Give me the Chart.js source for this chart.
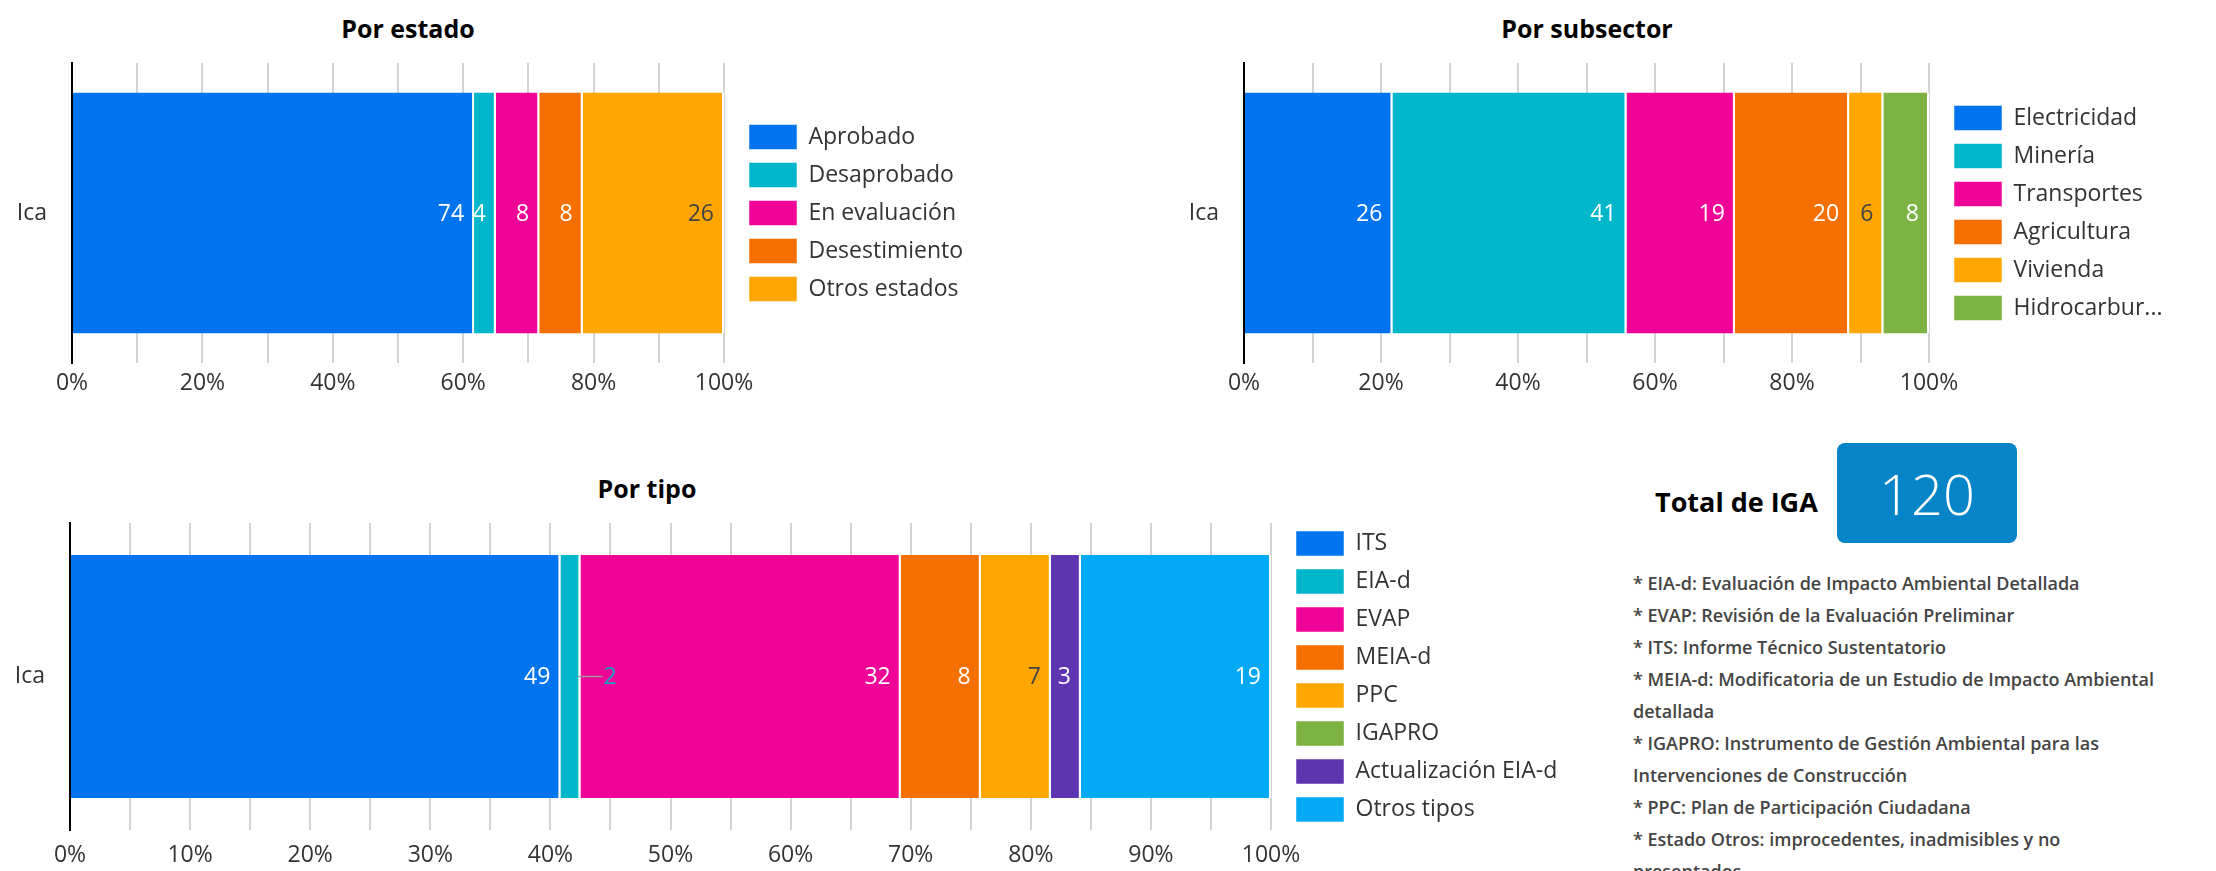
<!DOCTYPE html>
<html lang="es">
<head>
<meta charset="utf-8">
<title>IGA - Ica</title>
<script src="https://cdn.jsdelivr.net/npm/chart.js@4.4.1/dist/chart.umd.min.js"></script>
<style>
  html, body { margin: 0; padding: 0; background: #fff; width: 2216px; height: 871px; overflow: hidden; font-family: 'Open Sans', sans-serif; }
  canvas { position: absolute; }
  .title { position: absolute; width: 400px; text-align: center; font-weight: 700; font-size: 25px; line-height: 30px; color: #000; }
  .total { position: absolute; left: 1655px; top: 484px; font-size: 27px; font-weight: 700; line-height: 36px; color: #000; }
  .box { position: absolute; left: 1837px; top: 443px; width: 180px; height: 100px; border-radius: 8px; background: #0585c7;
         color: #fff; font-size: 56px; font-weight: 300; line-height: 100px; text-align: center; }
  .notes { position: absolute; left: 1633px; top: 567px; font-size: 18px; line-height: 32px; font-weight: 600; color: #444; white-space: nowrap; }
</style>
</head>
<body>
<div class="title" style="left:208px; top:13px">Por estado</div>
<div class="title" style="left:1387px; top:13px">Por subsector</div>
<div class="title" style="left:447px; top:473px">Por tipo</div>

<canvas id="estado" width="996" height="355" style="left:0; top:53px; width:996px; height:355px"></canvas>
<canvas id="subsector" width="1029" height="355" style="left:1172px; top:53px; width:1029px; height:355px"></canvas>
<canvas id="tipo" width="1583" height="362" style="left:0; top:513px; width:1583px; height:362px"></canvas>

<div class="total">Total de IGA</div>
<div class="box" id="totalBox"></div>
<div class="notes">
  * EIA-d: Evaluación de Impacto Ambiental Detallada<br>
  * EVAP: Revisión de la Evaluación Preliminar<br>
  * ITS: Informe Técnico Sustentatorio<br>
  * MEIA-d: Modificatoria de un Estudio de Impacto Ambiental<br>
  detallada<br>
  * IGAPRO: Instrumento de Gestión Ambiental para las<br>
  Intervenciones de Construcción<br>
  * PPC: Plan de Participación Ciudadana<br>
  * Estado Otros: improcedentes, inadmisibles y no<br>
  presentados
</div>

<script>
const region = ['Ica'];

const estadoLabels = ['Aprobado', 'Desaprobado', 'En evaluación', 'Desestimiento', 'Otros estados'];
const estadoValues = [74, 4, 8, 8, 26];

const subsectorLabels = ['Electricidad', 'Minería', 'Transportes', 'Agricultura', 'Vivienda', 'Hidrocarburos'];
const subsectorValues = [26, 41, 19, 20, 6, 8];

const tipoLabels = ['ITS', 'EIA-d', 'EVAP', 'MEIA-d', 'PPC', 'IGAPRO', 'Actualización EIA-d', 'Otros tipos'];
const tipoValues = [49, 2, 32, 8, 7, 0, 3, 19];

const palette = ['#0074ee', '#00b6cb', '#ef0497', '#f57000', '#ffa600', '#7cb342', '#5e35b1', '#03a9f4'];
const darkText = '#444';

Chart.defaults.font.family = "'Open Sans', sans-serif";
Chart.defaults.font.size = 23;
Chart.defaults.color = '#333';

// legend width fixed so the plot area lines up whatever the text widths are;
// "stretch" lets a long legend run a bit past the plot area instead of wrapping
const fixedLegend = {
  id: 'fixedLegend',
  beforeUpdate(chart, args, opts) {
    const lg = chart.legend;
    if (lg && !lg._fixedW) {
      const fit = lg.fit;
      lg.fit = function () {
        if (opts.stretch) this.maxHeight += 2 * opts.stretch;
        fit.call(this);
        this.width = opts.width;
      };
      lg._fixedW = true;
    }
  },
  afterLayout(chart, args, opts) {
    const lg = chart.legend;
    if (lg && opts.stretch) {
      lg.top -= opts.stretch;
      lg.bottom += opts.stretch;
      lg.height = lg.bottom - lg.top;
    }
  }
};

// count printed at the end of each segment, or beside it with a leader when it doesn't fit
const barValues = {
  id: 'barValues',
  afterDatasetsDraw(chart) {
    const ctx = chart.ctx;
    ctx.save();
    ctx.font = "23px 'Open Sans', sans-serif";
    ctx.textBaseline = 'middle';
    chart.data.datasets.forEach((ds, i) => {
      const el = chart.getDatasetMeta(i).data[0];
      if (!el || !ds.count) return;
      const text = String(ds.count);
      const w = el.x - el.base;
      const tw = ctx.measureText(text).width;
      if (tw + 8 <= w) {
        ctx.fillStyle = ds.backgroundColor === '#ffa600' ? darkText : '#fff';
        ctx.textAlign = 'right';
        ctx.fillText(text, el.x - 10, el.y + 1);
      } else {
        ctx.strokeStyle = '#999';
        ctx.lineWidth = 1.5;
        ctx.beginPath();
        ctx.moveTo(el.x - 2, el.y);
        ctx.lineTo(el.x + 22, el.y);
        ctx.stroke();
        ctx.fillStyle = '#17a2c4';
        ctx.textAlign = 'left';
        ctx.fillText(text, el.x + 23, el.y + 1);
      }
    });
    ctx.restore();
  }
};

function makeChart(id, labels, values, opt) {
  const total = values.reduce((a, b) => a + b, 0);
  const datasets = labels.map((name, i) => ({
    label: name,
    data: [values[i] / total * 100],
    count: values[i],
    xAxisID: 'x',
    yAxisID: 'y',
    backgroundColor: palette[i],
    borderColor: '#fff',
    borderWidth: { top: 0, right: 2, bottom: 0, left: 0 },
    categoryPercentage: 0.9,
    barPercentage: opt.bar
  }));

  return new Chart(document.getElementById(id), {
    type: 'bar',
    data: { labels: region, datasets: datasets },
    plugins: [fixedLegend, barValues],
    options: {
      indexAxis: 'y',
      responsive: false,
      animation: false,
      devicePixelRatio: 1,
      layout: { padding: { top: 10, left: 0, right: 0, bottom: 0 } },
      scales: {
        x: {
          stacked: true,
          min: 0,
          max: 100,
          grid: {
            color: c => (c.tick && c.tick.value === 0) ? 'rgba(0,0,0,0)' : '#d3d3d3',
            lineWidth: 2,
            drawTicks: false
          },
          border: { display: false },
          ticks: {
            stepSize: opt.step,
            autoSkip: false,
            maxRotation: 0,
            padding: opt.tickPad,
            callback: v => Math.round(v) % opt.every === 0 ? Math.round(v) + '%' : ''
          },
          afterFit: s => { s.height = 45; }
        },
        y: {
          stacked: true,
          grid: { display: false, drawTicks: false },
          border: { color: '#000', width: 2 },
          ticks: { padding: 25 },
          afterFit: s => { s.width = opt.axisW; s.paddingTop = 0; s.paddingBottom = 0; }
        },
        gap: {
          type: 'linear',
          axis: 'y',
          position: 'right',
          grid: { display: false, drawTicks: false },
          border: { display: false },
          ticks: { display: false },
          afterFit: s => { s.width = 12; s.paddingTop = 0; s.paddingBottom = 0; }
        }
      },
      plugins: {
        legend: {
          position: 'right',
          fullSize: false,
          labels: {
            boxWidth: 48,
            boxHeight: 25,
            padding: 13,
            color: '#333',
            generateLabels: chart => Chart.defaults.plugins.legend.labels.generateLabels(chart).map(item => {
              if (opt.clip && item.text.length > opt.clip) item.text = item.text.slice(0, 11) + '...';
              return item;
            })
          }
        },
        tooltip: { enabled: false },
        fixedLegend: { width: opt.legendW, stretch: opt.stretch || 0 }
      }
    }
  });
}

makeChart('estado', estadoLabels, estadoValues, { step: 10, every: 20, tickPad: 7, axisW: 72, legendW: 260, bar: 0.893 });
makeChart('subsector', subsectorLabels, subsectorValues, { step: 10, every: 20, tickPad: 7, axisW: 72, legendW: 260, bar: 0.893, clip: 12 });
makeChart('tipo', tipoLabels, tipoValues, { step: 5, every: 10, tickPad: 12, axisW: 70, legendW: 300, bar: 0.88, stretch: 10 });

document.getElementById('totalBox').textContent = estadoValues.reduce((a, b) => a + b, 0);
</script>
</body>
</html>
